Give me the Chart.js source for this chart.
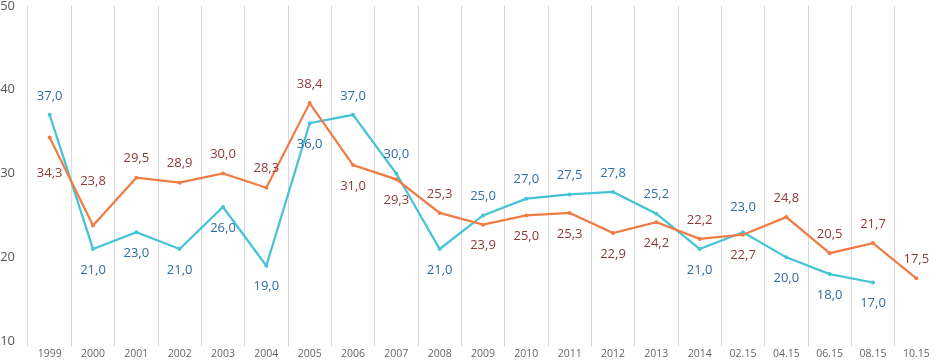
<!DOCTYPE html>
<html lang="ru">
<head>
  <meta charset="UTF-8" />
  <title>Chart</title>
  <script src="https://cdn.jsdelivr.net/npm/chart.js"></script>
  <style>
    html, body { margin: 0; padding: 0; background: #fff; overflow: hidden; }
    #wrap { width: 936px; height: 362px; overflow: hidden; position: relative; }
    #grafico { position: absolute; left: 0; top: -15px; }
  </style>
</head>
<body>
<div id="wrap"><canvas id="grafico" width="942" height="377"></canvas></div>
<script>
  const categorias = ["1999", "2000", "2001", "2002", "2003", "2004", "2005", "2006", "2007", "2008",
    "2009", "2010", "2011", "2012", "2013", "2014", "02.15", "04.15", "06.15", "08.15", "10.15"];
  const serieAzul = [37.0, 21.0, 23.0, 21.0, 26.0, 19.0, 36.0, 37.0, 30.0, 21.0,
    25.0, 27.0, 27.5, 27.8, 25.2, 21.0, 23.0, 20.0, 18.0, 17.0, null];
  const serieNaranja = [34.3, 23.8, 29.5, 28.9, 30.0, 28.3, 38.4, 31.0, 29.3, 25.3,
    23.9, 25.0, 25.3, 22.9, 24.2, 22.2, 22.7, 24.8, 20.5, 21.7, 17.5];
  const ejeY = [10, 20, 30, 40, 50];

  // desplazamiento vertical de cada etiqueta (px), negativo = encima
  const A = -19, B = 21;
  const dyAzul = [A, B, B, B, B, B, B, A, A, B, A, A, A, A, A, B, -25, B, B, B, 0];
  const dyNaranja = [36, -44, A, A, A, A, A, B, B, A, B, B, B, B, B, A, B, A, A, A, A];

  const etiquetas = {
    id: "etiquetas",
    afterDatasetsDraw(chart) {
      const ctx = chart.ctx;
      ctx.save();
      ctx.font = '13px "Open Sans", sans-serif';
      ctx.textAlign = "center";
      ctx.textBaseline = "middle";
      chart.data.datasets.forEach((ds, i) => {
        const meta = chart.getDatasetMeta(i);
        meta.data.forEach((pt, j) => {
          const v = ds.data[j];
          if (v === null) return;
          ctx.fillStyle = ds.labelColor;
          ctx.fillText(v.toFixed(1).replace(".", ","), pt.x, pt.y + ds.labelDy[j]);
        });
      });
      ctx.restore();
    }
  };

  new Chart(document.getElementById("grafico").getContext("2d"), {
    type: "line",
    data: {
      labels: categorias,
      datasets: [
        {
          data: serieNaranja,
          borderColor: "#F07C45",
          backgroundColor: "#F07C45",
          borderWidth: 2.25,
          pointRadius: 2,
          pointBorderWidth: 0,
          tension: 0,
          labelColor: "#8E3A37",
          labelDy: dyNaranja
        },
        {
          data: serieAzul,
          borderColor: "#46C3D6",
          backgroundColor: "#46C3D6",
          borderWidth: 2.25,
          pointRadius: 2,
          pointBorderWidth: 0,
          tension: 0,
          labelColor: "#2E6DA4",
          labelDy: dyAzul
        }
      ]
    },
    options: {
      responsive: false,
      animation: false,
      layout: { padding: { top: 0, right: 1, bottom: 0, left: 0 } },
      plugins: { legend: { display: false }, tooltip: { enabled: false } },
      scales: {
        x: {
          offset: true,
          afterFit(axis) { axis.height = 20; },
          grid: { offset: true, color: "#D9D9D9", lineWidth: 1, tickLength: 5, drawTicks: true },
          border: { display: false },
          ticks: { color: "#666666", font: { family: "Open Sans", size: 10.5 }, padding: 2, maxRotation: 0, autoSkip: false }
        },
        y: {
          min: ejeY[0],
          max: ejeY[ejeY.length - 1],
          afterBuildTicks(axis) { axis.ticks = ejeY.map(v => ({ value: v })); },
          afterFit(axis) { axis.width = 28; },
          grid: { display: false, drawTicks: false },
          border: { display: false },
          ticks: { color: "#595959", font: { family: "Open Sans", size: 13 }, padding: 13 }
        }
      }
    },
    plugins: [etiquetas]
  });
</script>
</body>
</html>
